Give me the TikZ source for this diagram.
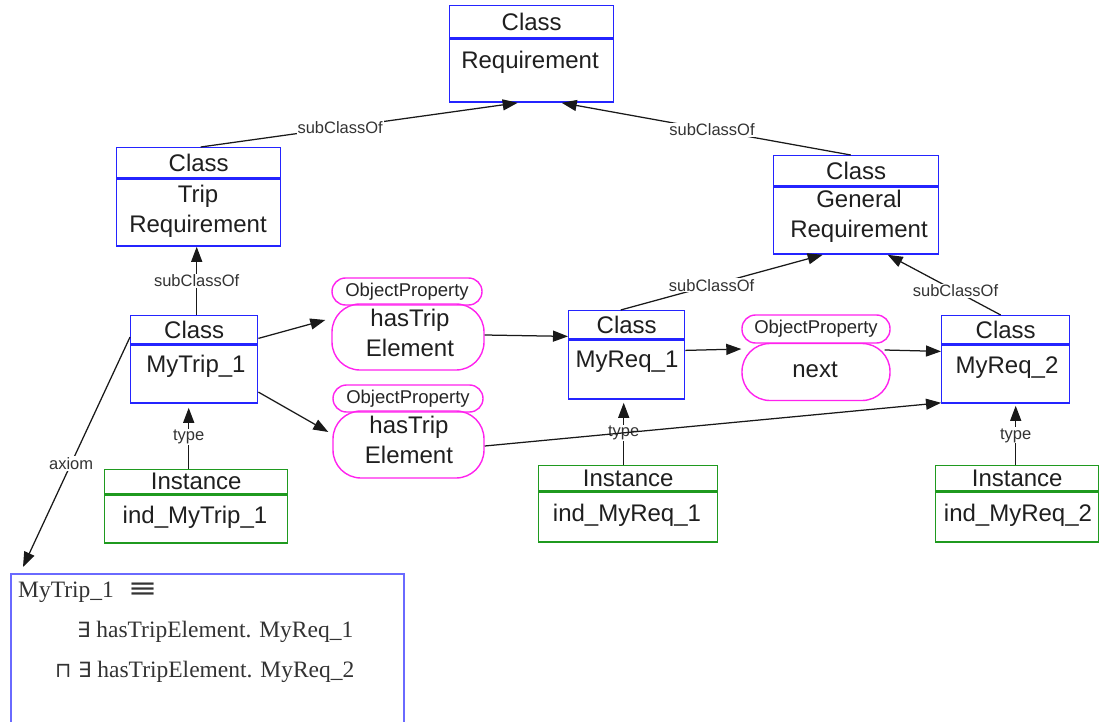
\documentclass[tikz,border=0pt]{standalone}
\usepackage{fontspec}
\usepackage{graphicx}
\setmainfont{Liberation Sans}
\newfontfamily\axfont{Liberation Serif}
\newfontfamily\symfont{DejaVu Sans}
\newcommand\axsymfont{\symfont\fontsize{21}{24}\selectfont}
\usetikzlibrary{arrows.meta,calc}

\definecolor{clsblue}{HTML}{2424FF}
\definecolor{insgreen}{HTML}{1F9A1F}
\definecolor{opmag}{HTML}{FF22EE}
\definecolor{axblue}{HTML}{6A6AFF}
\definecolor{lblgray}{HTML}{333333}

\begin{document}
\begin{tikzpicture}[x=1pt,y=-1pt,
  clsbox/.style={draw=clsblue, line width=1.4pt, inner sep=0pt, anchor=north west,
                 font=\fontsize{24}{29}\selectfont, text=black!88},
  insbox/.style={draw=insgreen, line width=1.4pt, inner sep=0pt, anchor=north west,
                 font=\fontsize{24}{29}\selectfont, text=black!88},
  bodytext/.style={font=\fontsize{24}{30}\selectfont, text=black!88, align=center, inner sep=0pt},
  opsmall/.style={draw=opmag, line width=1.4pt, inner sep=0pt, rounded corners=13.5pt,
                  font=\fontsize{18.5}{22}\selectfont, text=black!85},
  opmain/.style={draw=opmag, line width=1.4pt, inner sep=0pt, rounded corners=28pt,
                 font=\fontsize{24}{30}\selectfont, text=black!88, align=center},
  elabel/.style={font=\fontsize{16.5}{20}\selectfont, fill=white, inner sep=1pt, text=lblgray},
  link/.style={line width=1.25pt, draw=black!90, -{Triangle[length=15pt,width=11pt]}},
  axtext/.style={font=\axfont\fontsize{23.5}{28}\selectfont, text=black!80, anchor=west, inner sep=0pt}
]
\clip (0,0) rectangle (1100,722);
\fill[white] (0,0) rectangle (1100,722);

% ---------- classes ----------
\node[clsbox, minimum width=164pt, minimum height=32pt] (reqH) at (449,5) {Class};
\node[clsbox, minimum width=164pt, minimum height=63pt] (reqB) at (reqH.south west) {};
\node[bodytext] (reqT) at (530,62) {Requirement};

\node[clsbox, minimum width=164pt, minimum height=30pt] (tripH) at (116,147) {Class};
\node[clsbox, minimum width=164pt, minimum height=67pt] (tripB) at (tripH.south west) {};
\node[bodytext] (tripT) at (198,211) {Trip\\Requirement};

\node[clsbox, minimum width=165pt, minimum height=30pt] (genH) at (773,155) {Class};
\node[clsbox, minimum width=165pt, minimum height=67pt] (genB) at (genH.south west) {};
\node[bodytext] (genT) at (859,216) {General\\Requirement};

\node[clsbox, minimum width=127pt, minimum height=28pt] (tripcH) at (130,315) {Class};
\node[clsbox, minimum width=127pt, minimum height=58pt] (tripcB) at (tripcH.south west) {};
\node[bodytext] (tripcT) at (196,366) {MyTrip\_1};

\node[clsbox, minimum width=116pt, minimum height=28pt] (rqaH) at (568,310) {Class};
\node[clsbox, minimum width=116pt, minimum height=59pt] (rqaB) at (rqaH.south west) {};
\node[bodytext] (rqaT) at (627,362) {MyReq\_1};

\node[clsbox, minimum width=128pt, minimum height=28pt] (rqbH) at (941,315) {Class};
\node[clsbox, minimum width=128pt, minimum height=58pt] (rqbB) at (rqbH.south west) {};
\node[bodytext] (rqbT) at (1007,368) {MyReq\_2};

% ---------- instances ----------
\node[insbox, minimum width=183pt, minimum height=24pt] (insaH) at (104,469) {Instance};
\node[insbox, minimum width=183pt, minimum height=48pt] (insaB) at (insaH.south west) {};
\node[bodytext] (insaT) at (195,517) {ind\_MyTrip\_1};

\node[insbox, minimum width=179pt, minimum height=25pt] (insbH) at (538,465) {Instance};
\node[insbox, minimum width=179pt, minimum height=50pt] (insbB) at (insbH.south west) {};
\node[bodytext] (insbT) at (627,515) {ind\_MyReq\_1};

\node[insbox, minimum width=163pt, minimum height=25pt] (inscH) at (935,465) {Instance};
\node[insbox, minimum width=163pt, minimum height=50pt] (inscB) at (inscH.south west) {};
\node[bodytext] (inscT) at (1018,515) {ind\_MyReq\_2};

% ---------- object properties ----------
\node[opsmall, minimum width=150pt, minimum height=27pt] (opaS) at (407,291.5) {ObjectProperty};
\node[opmain, minimum width=152pt, minimum height=66pt] (opaM) at (408,337) {};
\node[bodytext] (opaT) at (410,333) {hasTrip\\Element};

\node[opsmall, minimum width=150pt, minimum height=27pt] (opbS) at (408,398.5) {ObjectProperty};
\node[opmain, minimum width=151pt, minimum height=67pt] (opbM) at (408.5,444.5) {};
\node[bodytext] (opbT) at (409,440) {hasTrip\\Element};

\node[opsmall, minimum width=148pt, minimum height=28pt] (opcS) at (816,329) {ObjectProperty};
\node[opmain, minimum width=148pt, minimum height=57pt] (opcM) at (816,372) {};
\node[bodytext] (opcT) at (815,370) {next};

% ---------- axiom ----------
\node[draw=axblue, line width=1.5pt, minimum width=393pt, minimum height=170pt,
      anchor=north west, inner sep=0pt] (axbox) at (10,573) {};
\node[axtext] (axA) at (18,592) {MyTrip\_1\hspace{14pt}{\symfont\scalebox{1.5}[1.15]{≡}}};
\node[axtext] (axB) at (77,632) {{\axsymfont ∃} hasTripElement. MyReq\_1};
\node[axtext] (axC) at (55,672) {{\axsymfont ⊓ ∃} hasTripElement. MyReq\_2};

% ---------- subclass links ----------
\draw[link] ($(tripH.north)+(2,0)$) -- node[elabel, pos=0.44] (lsa) {subClassOf} ($(reqB.south)+(-14,0)$);
\draw[link] ($(genH.north)+(-5.5,0)$) -- node[elabel, pos=0.48] (lsb) {subClassOf} ($(reqB.south)+(30,0)$);
\draw[link] ($(tripcH.north)+(2.5,0)$) -- node[elabel, pos=0.5] (lsc) {subClassOf} ($(tripB.south)+(-2,0)$);
\draw[link] ($(rqaH.north)+(-6,0)$) -- node[elabel, pos=0.45] (lsd) {subClassOf} ($(genB.south)+(-33.5,0)$);
\draw[link] ($(rqbH.north)+(-5,0)$) -- node[elabel, pos=0.4] (lse) {subClassOf} ($(genB.south)+(31.5,0)$);

% ---------- type links ----------
\draw[link] ($(insaH.north)+(-7.5,0)$) -- node[elabel, pos=0.52] (lta) {type} ($(tripcB.south)+(-5.5,4)$);
\draw[link] ($(insbH.north)+(-4.5,0)$) -- node[elabel, pos=0.51] (ltb) {type} ($(rqaB.south)+(-3,3)$);
\draw[link] ($(inscH.north)+(-1.5,0)$) -- node[elabel, pos=0.5] (ltc) {type} ($(rqbB.south)+(10,2)$);

% ---------- property links ----------
\draw[link] ($(tripcB.north east)+(0,-6)$) -- ($(opaM.west)+(-6,-17)$);
\draw[link] ($(tripcB.east)+(0,18)$) -- ($(opbM.west)+(-4,-12.5)$);
\draw[link] ($(opaM.east)+(0,-2)$) -- ($(rqaH.south west)+(0,-3)$);
\draw[link] ($(rqaB.north east)+(0,11)$) -- ($(opcM.west)+(0,-23)$);
\draw[link] ($(opcM.east)+(-6,-22)$) -- ($(rqbB.north west)+(0,7)$);
\draw[link] ($(opbM.east)+(0,1.5)$) -- ($(rqbB.south west)+(0,-1)$);

% ---------- axiom link ----------
\draw[link] ($(tripcB.west)+(0,-37)$) -- node[elabel, pos=0.55] (lax) {axiom} ($(axbox.north west)+(13,-6)$);
\end{tikzpicture}
\end{document}
